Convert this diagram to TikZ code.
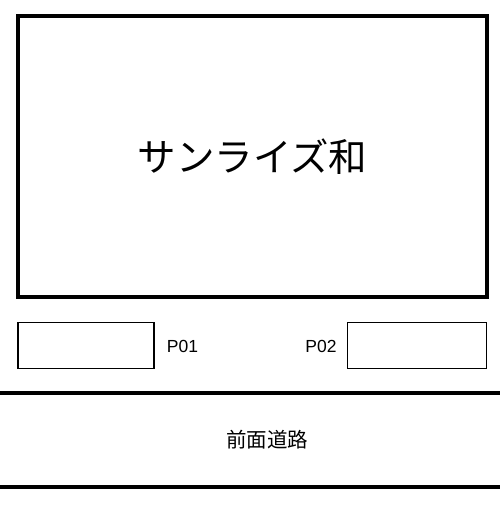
\documentclass[tikz,border=0pt]{standalone}
\usepackage{fontspec}
\setmainfont{Liberation Sans}
\newfontfamily\jpfont{Noto Sans CJK JP}
\usetikzlibrary{positioning}

\tikzset{
  building/.style={draw, line width=4pt, inner sep=0pt, minimum width=469pt, minimum height=281pt, font=\jpfont\fontsize{38.5}{42}\selectfont},
  parkbox/.style={draw, line width=1.5pt, inner sep=0pt, minimum height=46pt},
  parklabel/.style={font=\fontsize{17.5}{20}\selectfont, inner sep=0pt},
  roadline/.style={line width=4pt}
}

\begin{document}
\begin{tikzpicture}[x=1pt,y=-1pt]
  \useasboundingbox (0,0) rectangle (500,506);

  %building
  \node[building] (house) at (252.5,156.5) {サンライズ和};

  %parking
  \node[parkbox, minimum width=136pt] (park1) at (86,345.5) {};
  \node[parkbox, minimum width=139pt] (park2) at (417,345.5) {};

  %labels
  \node[parklabel] (lab1) at (182.5,346) {P01};
  \node[parklabel] (lab2) at (321,346) {P02};

  %road
  \coordinate (roadtopL) at (0,393);
  \coordinate (roadtopR) at (500,393);
  \coordinate (roadbotL) at (0,487);
  \coordinate (roadbotR) at (500,487);
  \draw[roadline] (roadtopL) -- (roadtopR);
  \draw[roadline] (roadbotL) -- (roadbotR);
  \node[font=\jpfont\fontsize{20.5}{24}\selectfont] (road) at (267,440) {前面道路};

\end{tikzpicture}
\end{document}
